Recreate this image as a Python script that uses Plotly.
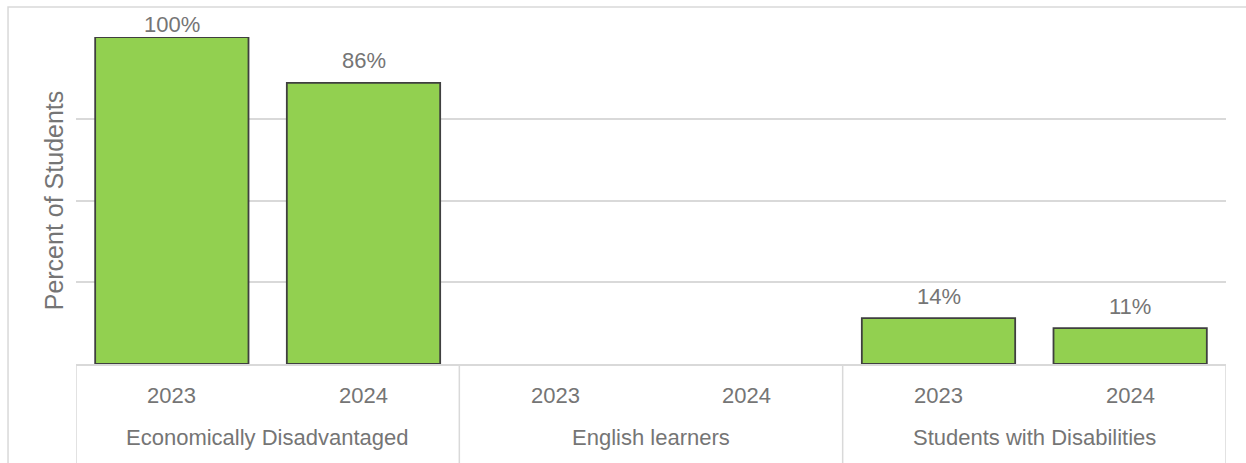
import plotly.graph_objects as go

# Student group shares by year
groups = ["Economically Disadvantaged", "English learners", "Students with Disabilities"]
years = ["2023", "2024"]
values = [100, 86, None, None, 14, 11]   # percent, one per group/year pair, in order

categories = [f"{g} {y}" for g in groups for y in years]

LABEL_GRAY = "#757575"
LINE_GRAY = "#d9d9d9"
FONT = "Liberation Sans, Arial, sans-serif"

MARGIN_T, MARGIN_B = 37, 99
PLOT_H = 463 - MARGIN_T - MARGIN_B
PX_PER_UNIT = PLOT_H / 100

fig = go.Figure()
fig.add_trace(go.Bar(
    x=categories,
    y=values,
    marker=dict(color="#92d050", line=dict(color="#3f3f3f", width=1.8)),
    width=0.8,
    hoverinfo="skip",
    showlegend=False,
))

annotations = []
# Value labels above each bar, kept inside the chart area near the top
for cat, v in zip(categories, values):
    if v is None:
        continue
    label_pos = min(v + 6.7, 103.7)
    annotations.append(dict(
        x=cat, y=v, xref="x", yref="y",
        yshift=(label_pos - v) * PX_PER_UNIT,
        text=f"{v}%", showarrow=False, yanchor="middle",
        font=dict(size=22, color=LABEL_GRAY, family=FONT),
    ))

# Two-level category labels under the axis
for i, cat in enumerate(categories):
    annotations.append(dict(
        x=cat, y=0, xref="x", yref="y", yanchor="middle",
        yshift=-31, text=years[i % len(years)], showarrow=False,
        font=dict(size=22, color=LABEL_GRAY, family=FONT),
    ))
for gi, g in enumerate(groups):
    annotations.append(dict(
        x=gi * len(years) + (len(years) - 1) / 2, y=0, xref="x", yref="y",
        yanchor="middle", yshift=-73, text=g, showarrow=False,
        font=dict(size=22, color=LABEL_GRAY, family=FONT),
    ))

shapes = []
# Group dividers below the axis
for gi in range(len(groups) + 1):
    xpos = gi * len(years) - 0.5
    shapes.append(dict(
        type="line", xref="x", yref="paper",
        x0=xpos, x1=xpos, y0=0, y1=-0.35,
        line=dict(color=LINE_GRAY, width=1.5),
    ))
# Outer chart frame
shapes.append(dict(
    type="rect", xref="paper", yref="paper",
    x0=-0.0591, x1=1.2, y0=-0.5, y1=1.0917,
    line=dict(color=LINE_GRAY, width=1.5), fillcolor="rgba(0,0,0,0)",
    layer="below",
))

fig.update_layout(
    width=1246, height=463,
    margin=dict(l=76, r=20, t=MARGIN_T, b=MARGIN_B),
    paper_bgcolor="white", plot_bgcolor="white",
    bargap=0.2,
    xaxis=dict(
        type="category", categoryorder="array", categoryarray=categories,
        range=[-0.5, len(categories) - 0.5],
        showticklabels=False, ticks="", showgrid=False,
        showline=True, linecolor=LINE_GRAY, linewidth=1.5,
        zeroline=False,
    ),
    yaxis=dict(
        range=[0, 100], tickvals=[25, 50, 75, 100],
        showticklabels=False, ticks="",
        showgrid=True, gridcolor=LINE_GRAY, gridwidth=1.5,
        zeroline=False, showline=False,
        title=dict(text="Percent of Students", standoff=4,
                   font=dict(size=25, color=LABEL_GRAY, family=FONT)),
    ),
    annotations=annotations,
    shapes=shapes,
)

fig.write_html("out.html")
